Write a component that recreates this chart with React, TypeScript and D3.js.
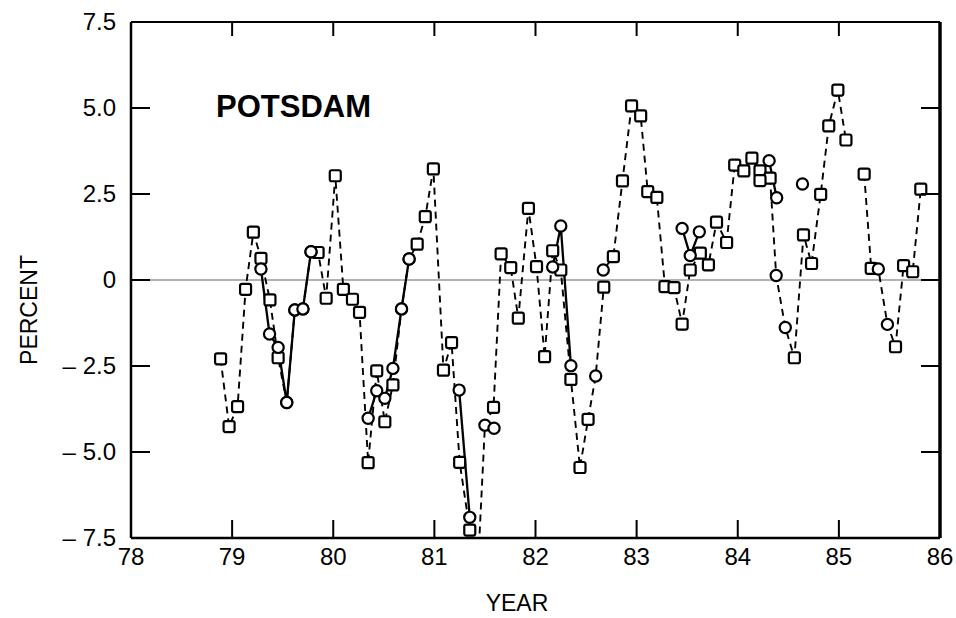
import React from 'react';
import * as d3 from 'd3';

// Monthly series (dashed): [year, percent, marker]  s = square, c = circle, n = no marker
const monthly: [number, number | null, string][] = [
  [78.886, -2.29, 's'], [78.97, -4.26, 's'], [79.054, -3.68, 's'], [79.133, -0.27, 's'],
  [79.21, 1.39, 's'], [79.285, 0.63, 's'], [79.374, -0.58, 's'], [79.455, -2.26, 's'],
  [79.54, -3.56, 'c'], [79.62, -0.87, 'c'], [79.70, -0.84, 'c'], [79.78, 0.82, 'c'],
  [79.85, 0.80, 's'], [79.93, -0.53, 's'], [80.02, 3.03, 's'], [80.10, -0.27, 's'],
  [80.19, -0.56, 's'], [80.26, -0.94, 's'], [80.345, -5.31, 's'], [80.43, -2.64, 's'],
  [80.51, -4.12, 's'], [80.59, -3.05, 's'], [80.675, -0.84, 'c'], [80.75, 0.61, 'c'],
  [80.83, 1.04, 's'], [80.91, 1.84, 's'], [80.99, 3.23, 's'], [81.09, -2.62, 's'],
  [81.17, -1.82, 's'], [81.25, -5.30, 's'], [81.35, -7.27, 's'], [81.42, -9.0, 'n'],
  [81.50, -4.22, 'c'], [81.585, -3.70, 's'], [81.66, 0.76, 's'], [81.755, 0.36, 's'],
  [81.83, -1.11, 's'], [81.93, 2.08, 's'], [82.01, 0.39, 's'], [82.09, -2.23, 's'],
  [82.17, 0.85, 's'], [82.25, 0.29, 's'], [82.35, -2.89, 's'], [82.44, -5.45, 's'],
  [82.52, -4.05, 's'], [82.595, -2.79, 'c'], [82.675, -0.21, 's'], [82.67, 0.29, 'c'],
  [82.77, 0.68, 's'], [82.86, 2.88, 's'], [82.95, 5.06, 's'], [83.04, 4.77, 's'],
  [83.11, 2.57, 's'], [83.20, 2.40, 's'], [83.28, -0.19, 's'], [83.37, -0.22, 's'],
  [83.45, -1.28, 's'], [83.53, 0.29, 's'], [83.63, 0.78, 's'], [83.71, 0.44, 's'],
  [83.79, 1.68, 's'], [83.89, 1.09, 's'], [83.97, 3.34, 's'], [84.06, 3.17, 's'],
  [84.14, 3.54, 's'], [84.22, 3.17, 's'], [84.32, 2.96, 's'], [84.38, 0.13, 'c'],
  [84.47, -1.38, 'c'], [84.56, -2.26, 's'], [84.65, 1.31, 's'], [84.73, 0.48, 's'],
  [84.82, 2.49, 's'], [84.90, 4.48, 's'], [84.99, 5.52, 's'], [85.07, 4.07, 's'],
  [85.16, null, 'n'], [85.25, 3.08, 's'], [85.32, 0.34, 's'], [85.39, 0.32, 'c'],
  [85.48, -1.29, 'c'], [85.56, -1.94, 's'], [85.64, 0.42, 's'], [85.73, 0.24, 's'],
  [85.81, 2.64, 's'],
];

// Solid segments (circles)
const solidA: [number, number][] = [[79.285, 0.32], [79.37, -1.57], [79.455, -1.96], [79.54, -3.56], [79.62, -0.87], [79.70, -0.84], [79.78, 0.82]];
const solidB: [number, number][] = [[80.345, -4.02], [80.43, -3.22], [80.51, -3.44], [80.59, -2.57], [80.675, -0.84], [80.75, 0.61]];
const solidC: [number, number][] = [[81.245, -3.20], [81.35, -6.90]];
const solidD: [number, number][] = [[82.17, 0.38], [82.25, 1.57], [82.35, -2.49]];
const solidE: [number, number][] = [[83.45, 1.50], [83.53, 0.71], [83.62, 1.40]];
const solidF: [number, number][] = [[84.31, 3.47], [84.385, 2.39]];

const extraSquares: [number, number][] = [[84.22, 2.89]];
const loneCircles: [number, number][] = [[81.59, -4.31], [84.64, 2.79]];

const xTicks = [78, 79, 80, 81, 82, 83, 84, 85, 86];
const yTicks = [7.5, 5.0, 2.5, 0, -2.5, -5.0, -7.5];
const yTickLabels = ['7.5', '5.0', '2.5', '0', '\u2013 2.5', '\u2013 5.0', '\u2013 7.5'];

export default function App() {
  const x = d3.scaleLinear().domain([78, 86]).range([131, 940]);
  const y = d3.scaleLinear().domain([-7.5, 7.5]).range([538, 22]);
  const x0 = x(78), x1 = x(86), yTop = y(7.5), yBot = y(-7.5);

  const dashed = d3.line<[number, number | null, string]>()
    .defined(d => d[1] !== null)
    .x(d => x(d[0]))
    .y(d => y(d[1] as number));
  const solid = d3.line<[number, number]>().x(d => x(d[0])).y(d => y(d[1]));
  const segments = [solidA, solidB, solidC, solidD, solidE, solidF];

  const sq = 11;
  const font = "'Liberation Sans', Arial, Helvetica, sans-serif";

  const squares: [number, number][] = [
    ...monthly.filter(d => d[2] === 's' && d[1] !== null).map(d => [d[0], d[1] as number] as [number, number]),
    ...extraSquares,
  ];
  const circles: [number, number][] = [
    ...monthly.filter(d => d[2] === 'c' && d[1] !== null).map(d => [d[0], d[1] as number] as [number, number]),
    ...segments.flat(),
    ...loneCircles,
  ];

  return (
    <svg width={956} height={618} style={{ position: 'absolute', left: 0, top: 0, background: '#fff' }}>
      <defs>
        <clipPath id="plot">
          <rect x={x0} y={yTop} width={x1 - x0} height={yBot - yTop} />
        </clipPath>
      </defs>
      {/* zero line */}
      <line x1={x0} x2={x1} y1={y(0)} y2={y(0)} stroke="#666" strokeWidth={1.2} />
      <g clipPath="url(#plot)">
        <path d={dashed(monthly) || ''} fill="none" stroke="#000" strokeWidth={1.9} strokeDasharray="7,5" />
        {segments.map((s, i) => (
          <path key={i} d={solid(s) || ''} fill="none" stroke="#000" strokeWidth={2.3} />
        ))}
        {squares.map((d, i) => (
          <rect key={'s' + i} x={x(d[0]) - sq / 2} y={y(d[1]) - sq / 2} width={sq} height={sq} rx={2}
            fill="#fff" stroke="#000" strokeWidth={2.2} />
        ))}
        {circles.map((d, i) => (
          <circle key={'c' + i} cx={x(d[0])} cy={y(d[1])} r={5.6} fill="#fff" stroke="#000" strokeWidth={2.2} />
        ))}
      </g>
      {/* frame */}
      <line x1={x0} x2={x0} y1={yTop} y2={yBot} stroke="#000" strokeWidth={2.5} />
      <line x1={x1} x2={x1} y1={yTop} y2={yBot} stroke="#000" strokeWidth={3.5} />
      <line x1={x0} x2={x1} y1={yTop} y2={yTop} stroke="#000" strokeWidth={2} />
      <line x1={x0} x2={x1} y1={yBot} y2={yBot} stroke="#000" strokeWidth={2.5} />
      {/* x ticks */}
      {xTicks.slice(1, -1).map(t => (
        <g key={'xt' + t}>
          <line x1={x(t)} x2={x(t)} y1={yBot} y2={yBot - 18} stroke="#000" strokeWidth={2} />
          <line x1={x(t)} x2={x(t)} y1={yTop} y2={yTop + 14} stroke="#000" strokeWidth={2} />
        </g>
      ))}
      {xTicks.map(t => (
        <text key={'xl' + t} x={x(t)} y={565} textAnchor="middle" fontFamily={font} fontSize={24} fill="#000">{t}</text>
      ))}
      {/* y ticks */}
      {yTicks.slice(1, -1).map(t => (
        <g key={'yt' + t}>
          <line x1={x0} x2={x0 + 19} y1={y(t)} y2={y(t)} stroke="#000" strokeWidth={2} />
          <line x1={x1} x2={x1 - 19} y1={y(t)} y2={y(t)} stroke="#000" strokeWidth={2} />
        </g>
      ))}
      {yTicks.map((t, i) => (
        <text key={'yl' + t} x={116} y={y(t) + 8} textAnchor="end" fontFamily={font} fontSize={24} fill="#000">{yTickLabels[i]}</text>
      ))}
      {/* axis titles */}
      <text x={517} y={611} textAnchor="middle" fontFamily={font} fontSize={23} fill="#000">YEAR</text>
      <text transform={`translate(37,310) rotate(-90)`} textAnchor="middle" fontFamily={font} fontSize={23} fill="#000">PERCENT</text>
      <text x={216} y={117} fontFamily={font} fontSize={31} fontWeight="bold" fill="#000">POTSDAM</text>
    </svg>
  );
}
